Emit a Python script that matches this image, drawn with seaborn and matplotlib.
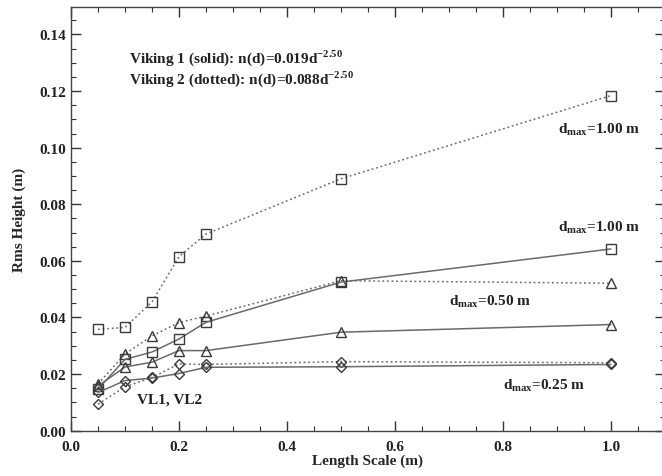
import matplotlib
matplotlib.use("Agg")
import matplotlib.pyplot as plt
import seaborn as sns
from matplotlib.ticker import MultipleLocator, FormatStrFormatter

# -----------------------------------------------
# Data
# -----------------------------------------------
length_scale = [0.05, 0.10, 0.15, 0.20, 0.25, 0.50, 1.00]

# Viking 2 (dotted)
v2_square = [0.0358, 0.0365, 0.0455, 0.0615, 0.0695, 0.0890, 0.1184]
v2_triangle = [0.0165, 0.0271, 0.0335, 0.0382, 0.0405, 0.0530, 0.0521]
v2_diamond = [0.0094, 0.0155, 0.0188, 0.0236, 0.0234, 0.0244, 0.0240]

# Viking 1 (solid)
v1_square = [0.0147, 0.0252, 0.0278, 0.0324, 0.0383, 0.0525, 0.0642]
v1_triangle = [0.0158, 0.0225, 0.0242, 0.0283, 0.0283, 0.0348, 0.0375]
v1_diamond = [0.0135, 0.0177, 0.0186, 0.0202, 0.0224, 0.0226, 0.0234]

# -----------------------------------------------
# Style
# -----------------------------------------------
sns.set_style("ticks")
plt.rcParams["font.family"] = ["Liberation Serif", "DejaVu Serif"]
plt.rcParams["font.weight"] = "bold"
plt.rcParams["mathtext.fontset"] = "custom"
plt.rcParams["mathtext.rm"] = "Liberation Serif"
plt.rcParams["mathtext.bf"] = "Liberation Serif:bold"

line_col = "#6a6a6a"
mark_col = "#3a3a3a"
dotted = (0, (1.2, 1.8))

fig = plt.figure(figsize=(6.62, 4.77), dpi=100)
ax = fig.add_axes([0.1073, 0.0950, 0.897, 0.8876])

series = [
    (v2_square, "s", dotted),
    (v2_triangle, "^", dotted),
    (v2_diamond, "D", dotted),
    (v1_square, "s", "-"),
    (v1_triangle, "^", "-"),
    (v1_diamond, "D", "-"),
]
for vals, mk, ls in series:
    sns.lineplot(x=length_scale, y=vals, ax=ax, color=line_col, linestyle=ls,
                 linewidth=1.1, marker=mk, markersize=6.5 if mk != "D" else 5.5,
                 markerfacecolor="none", markeredgecolor=mark_col,
                 markeredgewidth=1.0, sort=False)

ax.set_xlim(0, 1.1)
ax.set_ylim(0, 0.1496)
ax.xaxis.set_major_locator(MultipleLocator(0.2))
ax.xaxis.set_minor_locator(MultipleLocator(0.05))
ax.yaxis.set_major_locator(MultipleLocator(0.02))
ax.yaxis.set_minor_locator(MultipleLocator(0.005))
ax.xaxis.set_major_formatter(FormatStrFormatter("%.1f"))
ax.yaxis.set_major_formatter(FormatStrFormatter("%.2f"))
ax.tick_params(which="both", direction="in", top=True, right=True,
               colors="#333333", labelcolor="#222222", labelsize=11)
ax.tick_params(axis="x", which="major", pad=7)
ax.tick_params(which="major", length=7, width=1.0)
ax.tick_params(which="minor", length=3.5, width=0.8)
for sp in ax.spines.values():
    sp.set_color("#444444")
    sp.set_linewidth(1.0)

ax.set_xlabel("Length Scale (m)", fontsize=11, fontweight="bold", labelpad=0)
ax.set_ylabel("Rms Height (m)", fontsize=11, fontweight="bold", labelpad=10)

# -----------------------------------------------
# Annotations
# -----------------------------------------------
txt = dict(fontsize=11, fontweight="bold", color="#222222", va="center")
ax.text(0.107, 0.1320, r"Viking 1 (solid): n(d)=0.019d$^{\mathbf{-2.50}}$", **txt)
ax.text(0.107, 0.1245, r"Viking 2 (dotted): n(d)=0.088d$^{\mathbf{-2.50}}$", **txt)
ax.text(0.902, 0.1066, r"d$_{\mathbf{max}}$=1.00 m", **txt)
ax.text(0.902, 0.0720, r"d$_{\mathbf{max}}$=1.00 m", **txt)
ax.text(0.700, 0.0460, r"d$_{\mathbf{max}}$=0.50 m", **txt)
ax.text(0.800, 0.0163, r"d$_{\mathbf{max}}$=0.25 m", **txt)
ax.text(0.122, 0.0112, "VL1, VL2", **txt)

fig.savefig("out.png", dpi=100)
